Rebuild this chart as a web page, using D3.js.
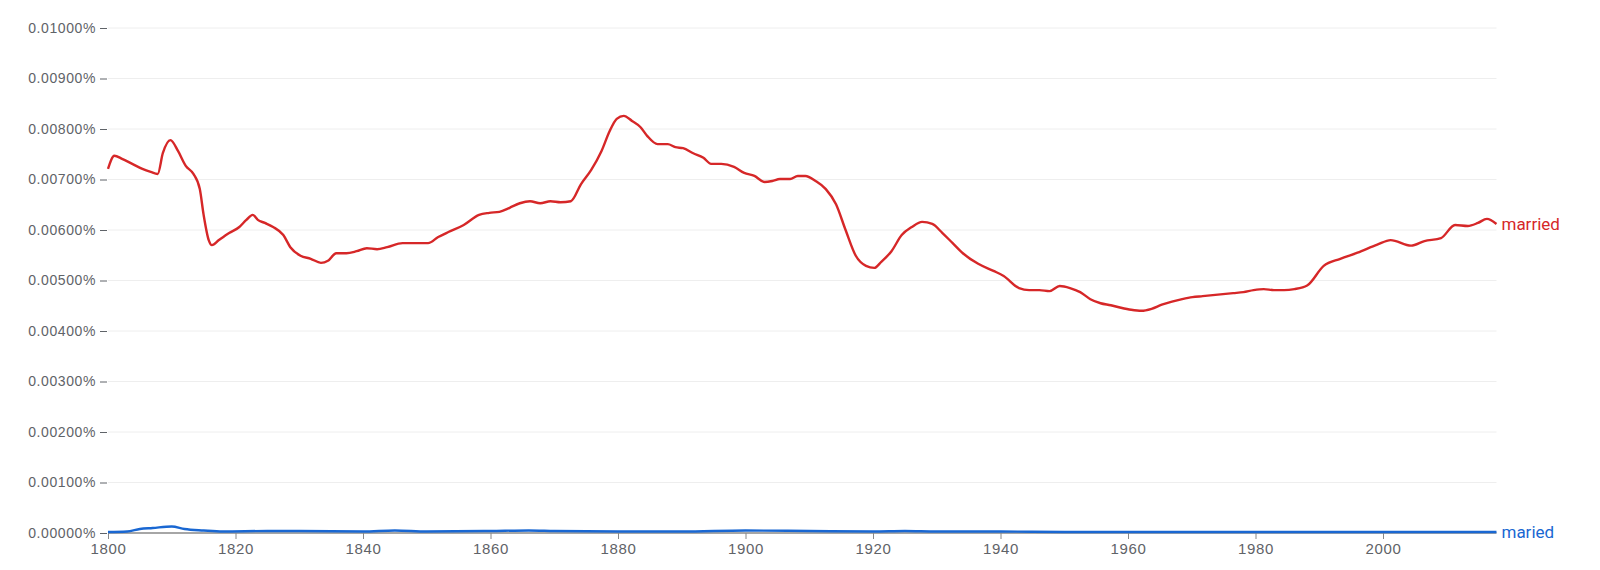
<!DOCTYPE html>
<html><head><meta charset="utf-8">
<script src="https://cdn.jsdelivr.net/npm/d3@7"></script>
<style>body{margin:0;background:#fff}svg{font-family:Roboto,sans-serif}</style>
</head><body><svg id="c" width="1600" height="570"></svg>
<script>
const marriedYears=[1800,1801,1802.2,1803.8,1805.4,1806.7,1807.8,1808.6,1809.8,1811,1812.2,1813.4,1814.4,1815,1815.8,1816.3,1817.4,1819,1820.6,1821.7,1822.7,1823.5,1824.6,1825.9,1827.5,1828.6,1830.2,1831.8,1833.4,1834.5,1835.8,1837.4,1839,1840.6,1842.2,1843.8,1846.2,1848.6,1850.2,1851.8,1853.4,1855.8,1858.2,1859.8,1861.4,1863,1864.6,1866.2,1867.8,1869.4,1871,1872.6,1874.2,1875.8,1877.4,1878.7,1879.8,1880.9,1882.2,1883.5,1884.6,1886.2,1887.8,1889,1890.2,1891.8,1893.4,1894.6,1896.2,1898.2,1899.8,1901.4,1903,1904.2,1905.4,1907,1908.2,1909.4,1911,1912.6,1914.2,1915.7,1917.3,1918.9,1920.2,1921.3,1922.9,1924.5,1926.1,1927.7,1929.3,1930.9,1932.5,1934.1,1936.5,1938.9,1940.5,1942.9,1944.5,1946.1,1947.7,1949.3,1950.9,1952.5,1954.1,1955.7,1957.3,1958.9,1960.5,1962.1,1963.7,1965.3,1966.9,1968.5,1970.1,1971.7,1973.3,1974.9,1976.5,1978.1,1979.7,1981.3,1982.9,1984.5,1986.1,1988.1,1990.7,1993.3,1996,1999.1,2001.2,2004.4,2006.5,2009.1,2011.3,2013.3,2014.9,2016.3,2017.8];
const marriedVals=[7.21,7.47,7.41,7.31,7.21,7.15,7.11,7.52,7.78,7.56,7.27,7.11,6.81,6.30,5.80,5.70,5.80,5.94,6.06,6.20,6.30,6.20,6.14,6.06,5.90,5.66,5.49,5.43,5.35,5.39,5.54,5.54,5.58,5.64,5.62,5.66,5.74,5.74,5.74,5.86,5.96,6.10,6.30,6.34,6.36,6.44,6.53,6.57,6.53,6.57,6.55,6.57,6.91,7.19,7.56,7.96,8.20,8.26,8.16,8.04,7.86,7.70,7.70,7.64,7.62,7.52,7.43,7.31,7.31,7.25,7.13,7.07,6.95,6.97,7.01,7.01,7.07,7.07,6.97,6.81,6.51,6.00,5.49,5.29,5.25,5.37,5.58,5.90,6.06,6.16,6.12,5.94,5.74,5.54,5.33,5.19,5.09,4.85,4.81,4.81,4.79,4.89,4.85,4.77,4.63,4.55,4.51,4.46,4.42,4.40,4.44,4.52,4.58,4.63,4.67,4.69,4.71,4.73,4.75,4.77,4.81,4.83,4.81,4.81,4.83,4.90,5.29,5.43,5.55,5.71,5.80,5.69,5.78,5.84,6.10,6.08,6.14,6.22,6.12];
const mariedYears=[1800,1803,1805,1807,1810,1812,1815,1818,1825,1830,1840,1845,1850,1860,1866,1870,1880,1890,1900,1910,1920,1925,1930,1940,1950,1960,1970,1980,1990,2000,2017.8];
const mariedVals=[0.02,0.03,0.08,0.10,0.13,0.08,0.05,0.03,0.04,0.04,0.03,0.05,0.03,0.04,0.05,0.04,0.03,0.03,0.05,0.04,0.03,0.04,0.03,0.03,0.02,0.02,0.02,0.02,0.02,0.02,0.02];
const yTicks=[0,1,2,3,4,5,6,7,8,9,10];
const xTicks=[1800,1820,1840,1860,1880,1900,1920,1940,1960,1980,2000];

const svg=d3.select("#c");
const x=d3.scaleLinear().domain([1800,2000]).range([108,1383]);
const y=d3.scaleLinear().domain([0,10]).range([533,28]);
const gray="#5f6368";
const xEnd=x(2017.8);
svg.append("g").selectAll("line").data(yTicks.slice(1)).join("line")
 .attr("x1",108).attr("x2",xEnd).attr("y1",d=>y(d)).attr("y2",d=>y(d))
 .attr("stroke","#eeeeee");
const ya=svg.append("g").attr("transform","translate(108,0)")
 .call(d3.axisLeft(y).tickValues(yTicks).tickSize(8).tickPadding(6).tickFormat(d=>(d/1000).toFixed(5)+"%"));
ya.select(".domain").remove();
ya.selectAll("line").attr("stroke",gray).attr("x1",-1).attr("x2",-8);
ya.selectAll("text").attr("fill",gray).style("font-size","14px").style("font-weight","500").style("letter-spacing","0.6px").attr("x",-12);
const xa=svg.append("g").attr("transform","translate(0,533)")
 .call(d3.axisBottom(x).tickValues(xTicks).tickSize(6).tickPadding(4).tickFormat(d3.format("d")));
xa.select(".domain").attr("stroke","#888").attr("stroke-width",1.5).attr("d","M108,0H"+xEnd);
xa.selectAll("line").attr("stroke","#888");
xa.selectAll("text").attr("fill",gray).style("font-size","15px").style("font-weight","500").style("letter-spacing","0.6px");
function draw(yrs,vals,color,label){
 const pts=yrs.map((d,i)=>[d,vals[i]]);
 svg.append("path").datum(pts).attr("fill","none").attr("stroke",color).attr("stroke-width",2.4)
  .attr("d",d3.line().x(d=>x(d[0])).y(d=>y(d[1])).curve(d3.curveMonotoneX));
 const last=pts[pts.length-1];
 svg.append("text").attr("x",x(last[0])+5).attr("y",y(last[1])).attr("dy","0.35em")
  .attr("fill",color).style("font-size","17px").text(label);
}
draw(marriedYears,marriedVals,"#d62728","married");
draw(mariedYears,mariedVals,"#1967d2","maried");
</script></body></html>
